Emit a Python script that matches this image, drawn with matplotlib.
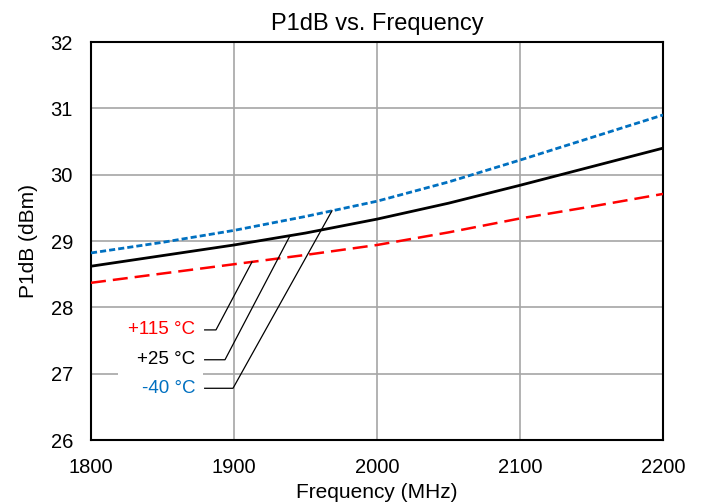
import matplotlib
matplotlib.use('Agg')
import matplotlib.pyplot as plt
import numpy as np
from matplotlib.patches import Rectangle

plt.rcParams['font.family'] = ['Liberation Sans', 'DejaVu Sans']

# Data
freq = [1800, 1850, 1900, 1950, 2000, 2050, 2100, 2150, 2200]
p1db_m40 = [28.82, 28.98, 29.16, 29.37, 29.60, 29.89, 30.22, 30.56, 30.90]
p1db_25 = [28.62, 28.78, 28.94, 29.12, 29.33, 29.57, 29.84, 30.12, 30.40]
p1db_115 = [28.37, 28.51, 28.65, 28.79, 28.94, 29.13, 29.34, 29.52, 29.71]

labels = ['+115 °C', '+25 °C', '-40 °C']
colors = ['#FF0000', '#000000', '#0070C0']

fig = plt.figure(figsize=(7.07, 5.03), dpi=100)
ax = fig.add_axes([0.1287, 0.1252, 0.8091, 0.7913])

ax.plot(freq, p1db_m40, color='#0070C0', lw=2, dashes=(2.2, 1.1), zorder=3)
ax.plot(freq, p1db_25, color='black', lw=2, zorder=3)
ax.plot(freq, p1db_115, color='#FF0000', lw=1.8, dashes=(6, 2.8), zorder=3)

ax.set_xlim(1800, 2200)
ax.set_ylim(26, 32)
ax.set_xticks([1800, 1900, 2000, 2100, 2200])
ax.set_yticks(np.arange(26, 33, 1))
ax.grid(True, color='#A6A6A6', lw=1.2, zorder=0)
ax.set_axisbelow(True)
ax.tick_params(length=0, labelsize=14.5, pad=13)
for s in ax.spines.values():
    s.set_color('black')
    s.set_linewidth(1.5)

ax.set_title('P1dB vs. Frequency', fontsize=17, pad=9)
ax.set_xlabel('Frequency (MHz)', fontsize=15, labelpad=4)
ax.set_ylabel('P1dB (dBm)', fontsize=15, labelpad=9)

# white box behind the labels
ax.add_patch(Rectangle((1819, 26.2), 59, 1.7, facecolor='white', edgecolor='none', zorder=1))

# leader lines: (label y, knee freq, anchor freq) layout
series = [p1db_115, p1db_25, p1db_m40]
label_y = [27.66, 27.21, 26.78]
knee_f = [1887.4, 1893.7, 1899.3]
anchor_f = [1912.6, 1939.2, 1968.5]
for lab, col, ser, ly, kf, af in zip(labels, colors, series, label_y, knee_f, anchor_f):
    ay = np.interp(af, freq, ser)
    ax.plot([1879.5, kf, af], [ly, ly, ay], color='black', lw=0.9, zorder=4)
    ax.text(1873, ly, lab, color=col, fontsize=13.5, ha='right', va='center', zorder=5)

fig.savefig('out.png', dpi=100)
